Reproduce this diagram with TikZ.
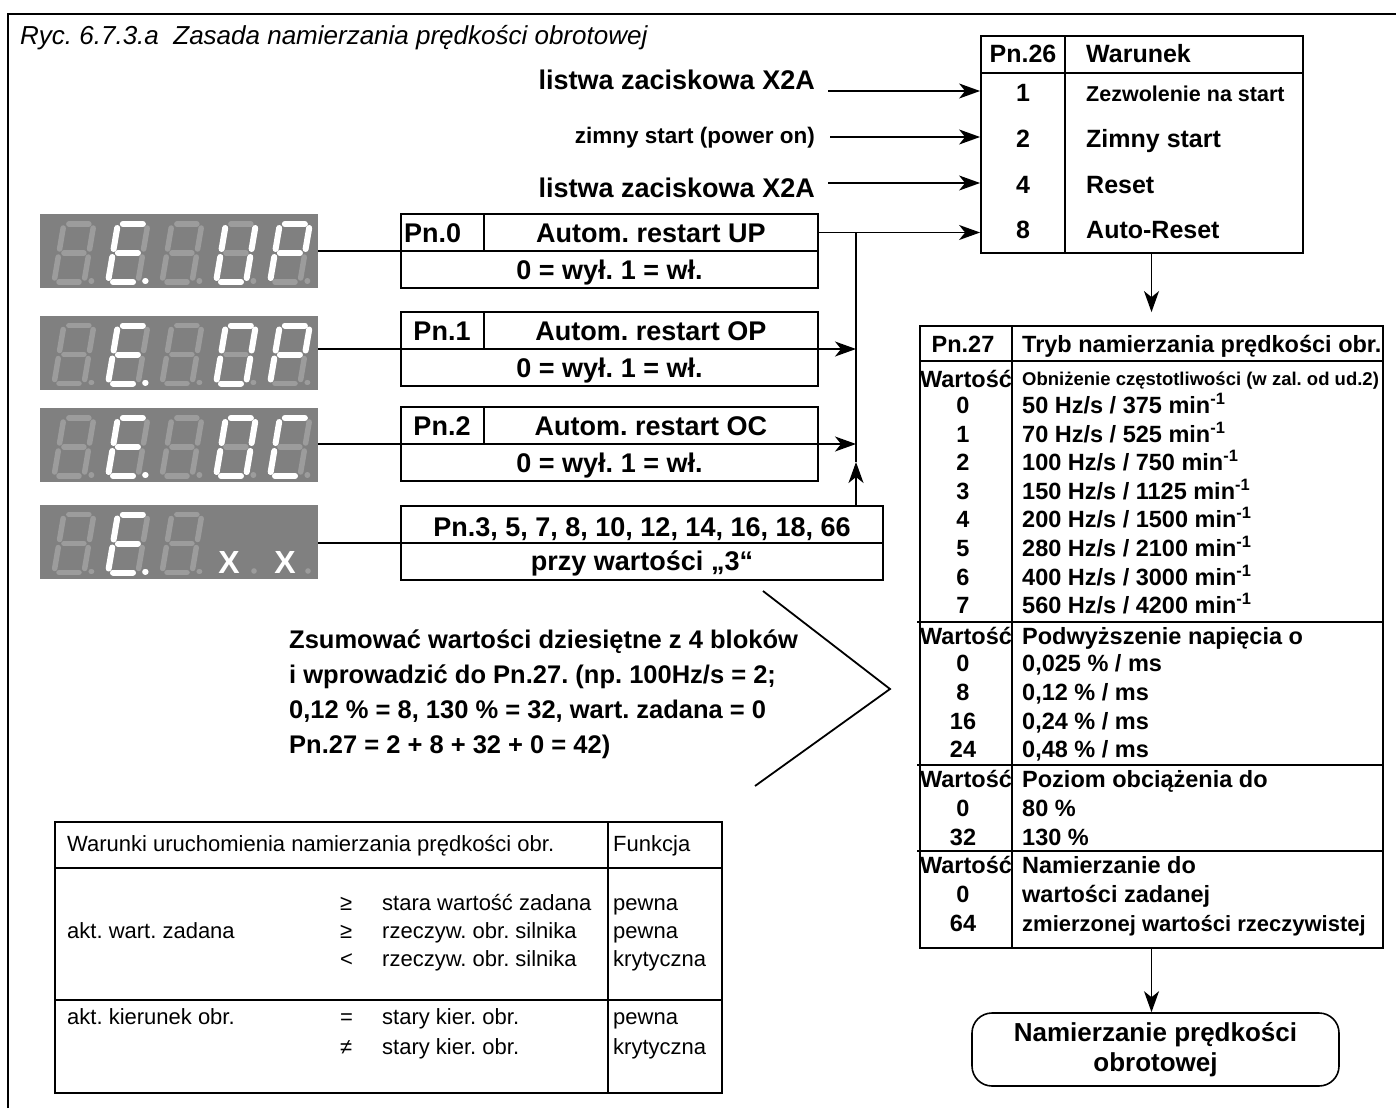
\documentclass[tikz,border=0pt]{standalone}
\usepackage{fontspec}
\setmainfont{Liberation Sans}
\usetikzlibrary{arrows.meta}

\definecolor{tlo}{HTML}{808080}
\definecolor{zgaszony}{HTML}{9C9C9C}

\tikzset{
  ramka/.style={draw, line width=1.8pt, inner sep=0pt},
  linia/.style={line width=1.8pt},
  strz/.style={line width=1.6pt, -{Stealth[length=21pt, width=15pt, inset=6pt]}},
  wysw/.style={fill=tlo, minimum width=278pt, minimum height=74pt, inner sep=0pt},
  segoff/.style={draw=zgaszony, line width=5.5pt, line cap=round},
  segon/.style={draw=white, line width=6pt, line cap=round},
  tytul/.style={font=\fontsize{26}{30}\selectfont\itshape, inner sep=0pt},
  duzy/.style={font=\fontsize{27}{31}\selectfont\bfseries, inner sep=0pt},
  srodek/.style={font=\fontsize{25}{29}\selectfont\bfseries, inner sep=0pt},
  tab/.style={font=\fontsize{23.5}{28}\selectfont\bfseries, inner sep=0pt},
  maly/.style={font=\fontsize{22}{26}\selectfont, inner sep=0pt},
  iks/.style={font=\fontsize{32}{32}\selectfont\bfseries, text=white, inner sep=0pt, anchor=base},
}

% cyfra siedmiosegmentowa: x i y dolnej krawedzi, zapalone segmenty
\newcommand{\cyfra}[3]{%
  \begin{scope}[shift={(#1,#2)}, xslant=0.17]
    \coordinate (a1) at (5,-58);  \coordinate (a2) at (25,-58);
    \coordinate (b1) at (30,-54); \coordinate (b2) at (30,-33);
    \coordinate (c1) at (30,-25); \coordinate (c2) at (30,-4);
    \coordinate (d1) at (5,0);    \coordinate (d2) at (25,0);
    \coordinate (e1) at (0,-25);  \coordinate (e2) at (0,-4);
    \coordinate (f1) at (0,-54);  \coordinate (f2) at (0,-33);
    \coordinate (g1) at (5,-29);  \coordinate (g2) at (25,-29);
    \coordinate (p1) at (37,-1);  \coordinate (p2) at (37.4,-1);
    \foreach \s in {a,b,c,d,e,f,g,p} \draw[segoff] (\s1) -- (\s2);
    \def\zapal{#3}%
    \ifx\zapal\empty\else
      \foreach \s in \zapal \draw[segon] (\s1) -- (\s2);
    \fi
  \end{scope}}

\begin{document}
\frenchspacing
\begin{tikzpicture}[x=1pt, y=-1pt]
  \useasboundingbox (0,0) rectangle (1396,1108);

  % Ramka i tytul
  \draw[line width=2.4pt] (8,1108) -- (8,14) -- (1396,14);
  \node[tytul, anchor=base west] (tytul) at (20,45) {Ryc. 6.7.3.a\ \ Zasada namierzania prędkości obrotowej};

  % Pn.26 - warunek
  \node[ramka, minimum width=322pt, minimum height=217pt] (pn26) at (1142,144.5) {};
  \draw[linia] (981,73) -- (1303,73);
  \draw[linia] (1065,36) -- (1065,253);
  \node[srodek, anchor=base] (pn26a) at (1023,63) {Pn.26};
  \node[srodek, anchor=base west] (pn26b) at (1086,63) {Warunek};
  \node[srodek, anchor=base] (r1) at (1023,101) {1};
  \node[font=\fontsize{21.5}{25}\selectfont\bfseries, inner sep=0pt, anchor=base west] (r1t) at (1086,101) {Zezwolenie na start};
  \node[srodek, anchor=base] (r2) at (1023,147) {2};
  \node[srodek, anchor=base west] (r2t) at (1086,147) {Zimny start};
  \node[srodek, anchor=base] (r4) at (1023,193) {4};
  \node[srodek, anchor=base west] (r4t) at (1086,193) {Reset};
  \node[srodek, anchor=base] (r8) at (1023,238) {8};
  \node[srodek, anchor=base west] (r8t) at (1086,238) {Auto-Reset};

  % Wejscia
  \node[duzy, anchor=base east] (lab1) at (815,89) {listwa zaciskowa X2A};
  \node[font=\fontsize{22.5}{26}\selectfont\bfseries, inner sep=0pt, anchor=base east] (lab2) at (815,143) {zimny start (power on)};
  \node[duzy, anchor=base east] (lab3) at (815,197) {listwa zaciskowa X2A};
  \coordinate (we1) at (828,91);
  \coordinate (we2) at (830,137);
  \coordinate (we3) at (828,183);
  \draw[strz] (we1) -- (we1 -| pn26.west);
  \draw[strz] (we2) -- (we2 -| pn26.west);
  \draw[strz] (we3) -- (we3 -| pn26.west);

  % Wyswietlacze
  \node[wysw] (disp0) at (179,251) {};
  \node[wysw] (disp1) at (179,352.5) {};
  \node[wysw] (disp2) at (179,445) {};
  \node[wysw] (disp3) at (179,541.5) {};
  \cyfra{54}{282}{}   \cyfra{108}{282}{a,d,e,f,g,p} \cyfra{162}{282}{}
  \cyfra{216}{282}{b,c,d,e,f} \cyfra{270}{282}{a,b,e,f,g}
  \cyfra{54}{383.5}{} \cyfra{108}{383.5}{a,d,e,f,g,p} \cyfra{162}{383.5}{}
  \cyfra{216}{383.5}{a,b,c,d,e,f} \cyfra{270}{383.5}{a,b,e,f,g}
  \cyfra{54}{476}{}   \cyfra{108}{476}{a,d,e,f,g,p} \cyfra{162}{476}{}
  \cyfra{216}{476}{a,b,c,d,e,f} \cyfra{270}{476}{a,d,e,f}
  \cyfra{54}{572.5}{} \cyfra{108}{572.5}{a,d,e,f,g,p} \cyfra{162}{572.5}{}
  \node[iks] (x1) at (229,573) {X};
  \node[iks] (x2) at (285,573) {X};
  \fill[zgaszony] (254,571) circle (2.8pt);
  \fill[zgaszony] (308,571) circle (2.8pt);

  % Parametry Pn.0 - Pn.3
  \node[ramka, minimum width=417pt, minimum height=74pt] (pn0) at (609.5,251) {};
  \draw[linia] (pn0.west) -- (pn0.east);
  \draw[linia] (484,214) -- (484,251);
  \node[duzy, anchor=base west] (pn0a) at (404,242) {Pn.0};
  \node[duzy, anchor=base] (pn0b) at (651,242) {Autom. restart UP};
  \node[duzy, anchor=base] (pn0c) at (609.5,279) {0 = wył. 1 = wł.};

  \node[ramka, minimum width=417pt, minimum height=74pt] (pn1) at (609.5,349) {};
  \draw[linia] (pn1.west) -- (pn1.east);
  \draw[linia] (484,312) -- (484,349);
  \node[duzy, anchor=base] (pn1a) at (442,340) {Pn.1};
  \node[duzy, anchor=base] (pn1b) at (651,340) {Autom. restart OP};
  \node[duzy, anchor=base] (pn1c) at (609.5,377) {0 = wył. 1 = wł.};

  \node[ramka, minimum width=417pt, minimum height=74pt] (pn2) at (609.5,444) {};
  \draw[linia] (pn2.west) -- (pn2.east);
  \draw[linia] (484,407) -- (484,444);
  \node[duzy, anchor=base] (pn2a) at (442,435) {Pn.2};
  \node[duzy, anchor=base] (pn2b) at (651,435) {Autom. restart OC};
  \node[duzy, anchor=base] (pn2c) at (609.5,472) {0 = wył. 1 = wł.};

  \node[ramka, minimum width=482pt, minimum height=74pt] (pn3) at (642,543) {};
  \draw[linia] (pn3.west) -- (pn3.east);
  \node[duzy, anchor=base] (pn3a) at (642,536) {Pn.3, 5, 7, 8, 10, 12, 14, 16, 18, 66};
  \node[duzy, anchor=base] (pn3b) at (642,570) {przy wartości „3“};

  % Polaczenia wyswietlaczy z parametrami
  \draw[linia] (disp0.east) -- (pn0.west);
  \draw[linia] (disp1.east |- pn1.west) -- (pn1.west);
  \draw[linia] (disp2.east |- pn2.west) -- (pn2.west);
  \draw[linia] (disp3.east |- pn3.west) -- (pn3.west);

  % Szyna do Pn.26
  \coordinate (wezel) at (856,232.5);
  \coordinate (grot) at (856,462);
  \draw[strz] (pn0.east |- wezel) -- (pn26.west |- wezel);
  \draw[linia] (wezel) -- (grot);
  \draw[strz] (pn3.north -| grot) -- (grot);
  \draw[strz] (pn1.east) -- (pn1.east -| wezel);
  \draw[strz] (pn2.east) -- (pn2.east -| wezel);

  % Opis sumowania
  \node[font=\fontsize{25.5}{35}\selectfont\bfseries, inner sep=0pt, align=left, anchor=west] (uwaga) at (289,694)
    {Zsumować wartości dziesiętne z 4 bloków\\ i wprowadzić do Pn.27. (np. 100Hz/s = 2;\\ 0,12 \% = 8, 130 \% = 32, wart. zadana = 0\\ Pn.27 = 2 + 8 + 32 + 0 = 42)};
  \draw[linia] (763,591) -- (890,689) -- (755,786);

  % Pn.27 - tryb namierzania
  \node[ramka, minimum width=463pt, minimum height=622pt] (pn27) at (1151.5,637) {};
  \draw[strz, shorten >=13pt] (pn26.south -| pn27.north) -- (pn27.north);
  \draw[linia] (920,361) -- (1383,361);
  \draw[linia] (917,622) -- (1383,622);
  \draw[linia] (917,765) -- (1383,765);
  \draw[linia] (917,851) -- (1383,851);
  \draw[linia] (1012,326) -- (1012,948);
  \node[tab, anchor=base] (pn27a) at (963,352) {Pn.27};
  \node[tab, anchor=base west] (pn27b) at (1022,352) {Tryb namierzania prędkości obr.};
  \node[tab, anchor=base] (wart1) at (966,387) {Wartość};
  \node[font=\fontsize{18.5}{22}\selectfont\bfseries, inner sep=0pt, anchor=base west] (sek1) at (1022,385) {Obniżenie częstotliwości (w zal. od ud.2)};
  \foreach \wa/\hz/\obr in {0/50/375, 1/70/525, 2/100/750, 3/150/1125, 4/200/1500, 5/280/2100, 6/400/3000, 7/560/4200} {
    \node[tab, anchor=base] (w\wa) at (963,{413.5+28.6*\wa}) {\wa};
    \node[tab, anchor=base west] (h\wa) at (1022,{413.5+28.6*\wa}) {\hz\ Hz/s / \obr\ min\textsuperscript{-1}};
  }
  \node[tab, anchor=base] (wart2) at (966,644) {Wartość};
  \node[tab, anchor=base west] (sek2) at (1022,644) {Podwyższenie napięcia o};
  \node[tab, anchor=base] (u0) at (963,671.5) {0};
  \node[tab, anchor=base west] (u0t) at (1022,671.5) {0,025 \% / ms};
  \node[tab, anchor=base] (u8) at (963,700.5) {8};
  \node[tab, anchor=base west] (u8t) at (1022,700.5) {0,12 \% / ms};
  \node[tab, anchor=base] (u16) at (963,729.5) {16};
  \node[tab, anchor=base west] (u16t) at (1022,729.5) {0,24 \% / ms};
  \node[tab, anchor=base] (u24) at (963,757.5) {24};
  \node[tab, anchor=base west] (u24t) at (1022,757.5) {0,48 \% / ms};
  \node[tab, anchor=base] (wart3) at (966,787.5) {Wartość};
  \node[tab, anchor=base west] (sek3) at (1022,787.5) {Poziom obciążenia do};
  \node[tab, anchor=base] (o0) at (963,816.5) {0};
  \node[tab, anchor=base west] (o0t) at (1022,816.5) {80 \%};
  \node[tab, anchor=base] (o32) at (963,845.5) {32};
  \node[tab, anchor=base west] (o32t) at (1022,845.5) {130 \%};
  \node[tab, anchor=base] (wart4) at (966,873.5) {Wartość};
  \node[tab, anchor=base west] (sek4) at (1022,873.5) {Namierzanie do};
  \node[tab, anchor=base] (n0) at (963,902.5) {0};
  \node[tab, anchor=base west] (n0t) at (1022,902.5) {wartości zadanej};
  \node[tab, anchor=base] (n64) at (963,931.5) {64};
  \node[font=\fontsize{22}{26}\selectfont\bfseries, inner sep=0pt, anchor=base west] (n64t) at (1022,931.5) {zmierzonej wartości rzeczywistej};

  % Wynik
  \node[draw, line width=1.6pt, rounded corners=20pt, minimum width=367pt, minimum height=73pt,
        font=\fontsize{26}{30}\selectfont\bfseries, align=center] (koniec) at (1155.5,1049.5)
    {Namierzanie prędkości\\obrotowej};
  \draw[strz] (pn27.south) -- (pn27.south |- koniec.north);

  % Tabela warunkow
  \node[draw, line width=1.4pt, minimum width=667pt, minimum height=271pt, inner sep=0pt] (tabela) at (388.5,957.5) {};
  \draw[line width=1.4pt] (55,868) -- (722,868);
  \draw[line width=1.4pt] (55,1000) -- (722,1000);
  \draw[line width=1.4pt] (608,822) -- (608,1093);
  \node[maly, anchor=base west] (nag1) at (67,851) {Warunki uruchomienia namierzania prędkości obr.};
  \node[maly, anchor=base west] (nag2) at (613,851) {Funkcja};
  \node[maly, anchor=base west] (k1) at (67,938) {akt. wart. zadana};
  \node[maly, anchor=base west] (s1) at (340,910) {≥};
  \node[maly, anchor=base west] (t1) at (382,910) {stara wartość zadana};
  \node[maly, anchor=base west] (f1) at (613,910) {pewna};
  \node[maly, anchor=base west] (s2) at (340,938) {≥};
  \node[maly, anchor=base west] (t2) at (382,938) {rzeczyw. obr. silnika};
  \node[maly, anchor=base west] (f2) at (613,938) {pewna};
  \node[maly, anchor=base west] (s3) at (340,966) {<};
  \node[maly, anchor=base west] (t3) at (382,966) {rzeczyw. obr. silnika};
  \node[maly, anchor=base west] (f3) at (613,966) {krytyczna};
  \node[maly, anchor=base west] (k2) at (67,1024) {akt. kierunek obr.};
  \node[maly, anchor=base west] (s4) at (340,1024) {=};
  \node[maly, anchor=base west] (t4) at (382,1024) {stary kier. obr.};
  \node[maly, anchor=base west] (f4) at (613,1024) {pewna};
  \node[maly, anchor=base west] (s5) at (340,1054) {≠};
  \node[maly, anchor=base west] (t5) at (382,1054) {stary kier. obr.};
  \node[maly, anchor=base west] (f5) at (613,1054) {krytyczna};
\end{tikzpicture}
\end{document}
